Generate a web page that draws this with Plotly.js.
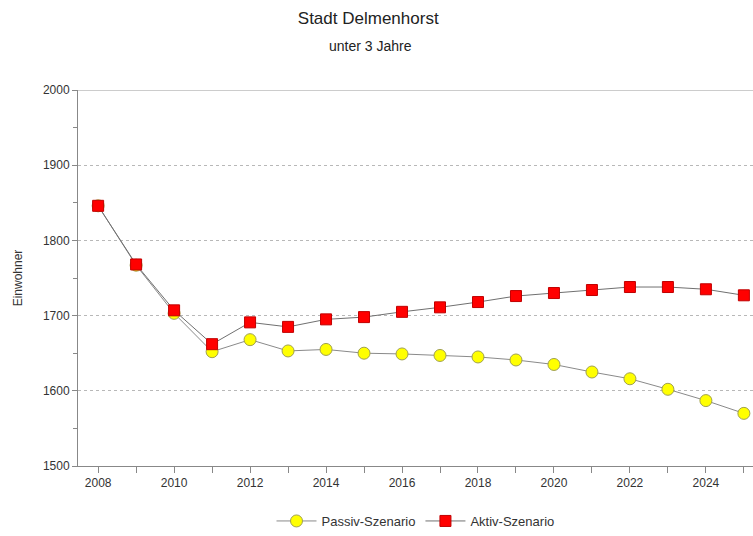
<!DOCTYPE html>
<html>
<head>
<meta charset="utf-8">
<script src="https://cdn.plot.ly/plotly-3.0.1.min.js"></script>
<style>html,body{margin:0;padding:0;background:#fff;}#chart{width:753px;height:536px;}</style>
</head>
<body>
<div id="chart"></div>
<script>
const years = [2008,2009,2010,2011,2012,2013,2014,2015,2016,2017,2018,2019,2020,2021,2022,2023,2024,2025];
const passiv = [1846,1767,1703,1652,1668,1653,1655,1650,1649,1647,1645,1641,1635,1625,1616,1602,1587,1570];
const aktiv  = [1846,1768,1707,1662,1691,1685,1695,1698,1705,1711,1718,1726,1730,1734,1738,1738,1735,1727];
const seriesNames = ["Passiv-Szenario","Aktiv-Szenario"];
const yTicks = [1500,1600,1700,1800,1900,2000];

const traces = [
  {x: years, y: passiv, name: seriesNames[0], type: "scatter", mode: "lines+markers",
   line: {color: "#8a8a8a", width: 1},
   marker: {symbol: "circle", size: 12, color: "#ffff00", line: {color: "#a0a050", width: 1}},
   cliponaxis: false, hoverinfo: "skip"},
  {x: years, y: aktiv, name: seriesNames[1], type: "scatter", mode: "lines+markers",
   line: {color: "#707070", width: 1},
   marker: {symbol: "square", size: 11, color: "#ff0000", line: {color: "#c00000", width: 1}},
   cliponaxis: false, hoverinfo: "skip"}
];

const layout = {
  width: 753, height: 536,
  margin: {l: 78, r: 0, t: 90, b: 70},
  paper_bgcolor: "#ffffff", plot_bgcolor: "#ffffff",
  font: {family: "Liberation Sans, Arial, sans-serif", color: "#333333", size: 12},
  title: {text: "Stadt Delmenhorst", x: 0.489, xanchor: "center", y: 0.966, yanchor: "middle",
          font: {size: 17, color: "#222222"}},
  annotations: [
    {text: "unter 3 Jahre", xref: "paper", yref: "paper", x: 0.434, y: 1.117,
     xanchor: "center", yanchor: "middle", showarrow: false,
     font: {size: 14, color: "#222222"}}
  ],
  showlegend: true,
  legend: {orientation: "h", x: 0.5, xanchor: "center", y: -0.147, yanchor: "middle",
           font: {size: 13, color: "#333333"}, itemwidth: 40, tracegroupgap: 0},
  xaxis: {range: [2007.47, 2025.24], tick0: 2008, dtick: 2, ticks: "outside", ticklen: 6,
          tickcolor: "#888888", showgrid: false, zeroline: false, showline: true,
          linecolor: "#888888", linewidth: 1,
          minor: {dtick: 1, ticks: "outside", ticklen: 6, tickcolor: "#888888", showgrid: false},
          tickfont: {size: 12, color: "#333333"}},
  yaxis: {range: [1500, 2000], tickvals: yTicks, ticks: "outside", ticklen: 5,
          tickcolor: "#888888", showgrid: true, gridcolor: "#b8b8b8", griddash: "dot",
          gridwidth: 1, zeroline: false, showline: true, linecolor: "#888888", linewidth: 1,
          minor: {dtick: 50, tick0: 1500, ticks: "outside", ticklen: 4, tickcolor: "#888888", showgrid: false},
          title: {text: "Einwohner", font: {size: 12, color: "#333333"}, standoff: 17},
          tickfont: {size: 12, color: "#333333"}},
  shapes: [
    {type: "line", xref: "paper", yref: "y", x0: 0, x1: 1, y0: 2000, y1: 2000,
     line: {color: "#999999", width: 1}}
  ]
};

Plotly.newPlot("chart", traces, layout, {displayModeBar: false, staticPlot: true});
</script>
</body>
</html>
